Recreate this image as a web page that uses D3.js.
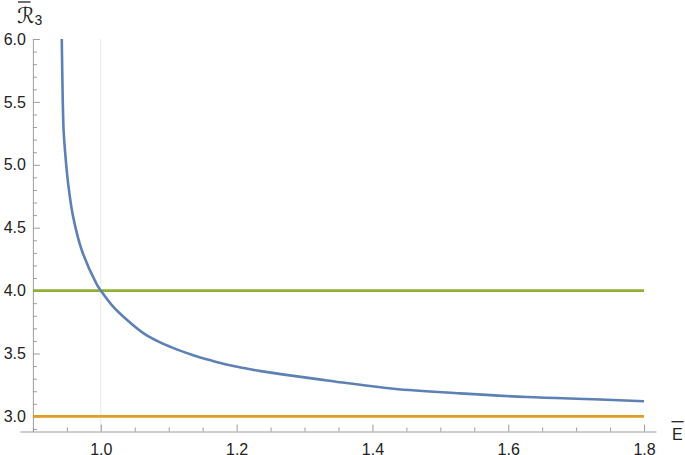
<!DOCTYPE html>
<html>
<head>
<meta charset="utf-8">
<script src="https://cdn.jsdelivr.net/npm/d3@7"></script>
<style>
  body { margin: 0; background: #fff; }
  svg { display: block; }
  .tick text { font-family: "Liberation Sans", Arial, sans-serif; font-size: 16px; fill: #222; }
</style>
</head>
<body>
<div id="graph_draw"></div>
<script>
// values
var energy = [0.9425, 0.9432, 0.944, 0.9452, 0.9472, 0.9519, 0.9593, 0.972, 0.9935, 1.0, 1.0165, 1.0392, 1.0637, 1.0882, 1.1127, 1.1372, 1.1618, 1.1863, 1.2108, 1.2353, 1.2647, 1.333, 1.431, 1.529, 1.6275, 1.7255, 1.8];
var r3     = [6.0,    5.75,   5.5,   5.275,  5.116,  4.851,  4.586,  4.321, 4.056,  4.0, 3.883,  3.764,  3.658,  3.586,  3.531,  3.485,  3.446,  3.411,  3.384,  3.36,   3.336,  3.286, 3.22,  3.183, 3.154,  3.136,  3.121];
var greenLevel = 4.0;
var orangeLevel = 3.0;
var markE = 1.0;
var xMajor = [1.0, 1.2, 1.4, 1.6, 1.8];
var xMinor = [0.9, 0.95, 1.05, 1.1, 1.15, 1.25, 1.3, 1.35, 1.45, 1.5, 1.55, 1.65, 1.7, 1.75];
var yMajor = [3.0, 3.5, 4.0, 4.5, 5.0, 5.5, 6.0];
var yMinor = [2.9, 3.1, 3.2, 3.3, 3.4, 3.6, 3.7, 3.8, 3.9, 4.1, 4.2, 4.3, 4.4, 4.6, 4.7, 4.8, 4.9, 5.1, 5.2, 5.3, 5.4, 5.6, 5.7, 5.8, 5.9];

var width = 685, height = 455;
var axisColor = "#9d9d9d";

var svg = d3.select("#graph_draw").append("svg")
    .attr("width", width)
    .attr("height", height);

// scales (axis origin at E=0.9, R=2.88)
var x = d3.scaleLinear().domain([0.881, 1.8176]).range([20, 656]);
var y = d3.scaleLinear().domain([2.88, 6.0]).range([431.5, 39]);

// light vertical marker at E = 1
svg.append("line")
    .attr("x1", x(markE)).attr("x2", x(markE))
    .attr("y1", y(6.0)).attr("y2", y(2.88))
    .attr("stroke", "#e9e9e9")
    .attr("stroke-width", 1);

// minor ticks
svg.append("g")
    .attr("transform", "translate(0," + y(2.88) + ")")
    .call(d3.axisBottom(x).tickValues(xMinor).tickSize(-4).tickSizeOuter(0).tickFormat(""))
    .call(function(g) { g.select(".domain").remove(); g.selectAll("line").attr("stroke", axisColor); });
svg.append("g")
    .attr("transform", "translate(" + x(0.9) + ",0)")
    .call(d3.axisLeft(y).tickValues(yMinor).tickSize(-4).tickSizeOuter(0).tickFormat(""))
    .call(function(g) { g.select(".domain").remove(); g.selectAll("line").attr("stroke", axisColor); });

// X axis
svg.append("g")
    .attr("transform", "translate(0," + y(2.88) + ")")
    .call(d3.axisBottom(x).tickValues(xMajor).tickSize(-7).tickSizeOuter(0).tickPadding(12).tickFormat(d3.format(".1f")))
    .call(function(g) {
        g.select(".domain").attr("stroke", axisColor);
        g.selectAll("line").attr("stroke", axisColor);
    });

// Y axis
svg.append("g")
    .attr("transform", "translate(" + x(0.9) + ",0)")
    .call(d3.axisLeft(y).tickValues(yMajor).tickSize(-7).tickSizeOuter(0).tickPadding(7).tickFormat(d3.format(".1f")))
    .call(function(g) {
        g.select(".domain").attr("stroke", axisColor);
        g.selectAll("line").attr("stroke", axisColor);
    });

// horizontal reference levels
svg.append("line")
    .attr("x1", x(0.9)).attr("x2", x(1.8))
    .attr("y1", y(orangeLevel)).attr("y2", y(orangeLevel))
    .attr("stroke", "#e19c24").attr("stroke-width", 2.6);
svg.append("line")
    .attr("x1", x(0.9)).attr("x2", x(1.8))
    .attr("y1", y(greenLevel)).attr("y2", y(greenLevel))
    .attr("stroke", "#8fb032").attr("stroke-width", 2.6);

// the R3(E) curve
var data = energy.map(function(e, i) { return {E: e, R: r3[i]}; });
var valueline = d3.line()
    .x(function(d) { return x(d.E); })
    .y(function(d) { return y(d.R); })
    .curve(d3.curveCatmullRom.alpha(0.5));
svg.append("path")
    .data([data])
    .attr("d", valueline)
    .attr("fill", "none")
    .attr("stroke", "#5e81b5")
    .attr("stroke-width", 2.6);

// axis labels with overbars
var xl = svg.append("text")
    .attr("x", 672).attr("y", 440)
    .attr("font-family", "Liberation Sans, Arial, sans-serif")
    .attr("font-size", 16)
    .attr("fill", "#222")
    .text("E");
var xb = xl.node().getBBox();
svg.append("line")
    .attr("x1", xb.x - 0.5).attr("x2", xb.x + xb.width + 1)
    .attr("y1", 421.7).attr("y2", 421.7)
    .attr("stroke", "#222").attr("stroke-width", 1.3);

var yl = svg.append("text")
    .attr("x", 17).attr("y", 23)
    .attr("font-family", "DejaVu Sans, sans-serif")
    .attr("font-size", 22)
    .attr("fill", "#222");
var rPart = yl.append("tspan").text("\u211B");
yl.append("tspan").attr("font-family", "Liberation Sans, Arial, sans-serif").attr("font-size", 14).attr("dy", 2).text("3");
var rb = rPart.node().getBBox();
svg.append("line")
    .attr("x1", rb.x + 1).attr("x2", rb.x + rb.width - 4)
    .attr("y1", 2).attr("y2", 2)
    .attr("stroke", "#222").attr("stroke-width", 1.3);
</script>
</body>
</html>
